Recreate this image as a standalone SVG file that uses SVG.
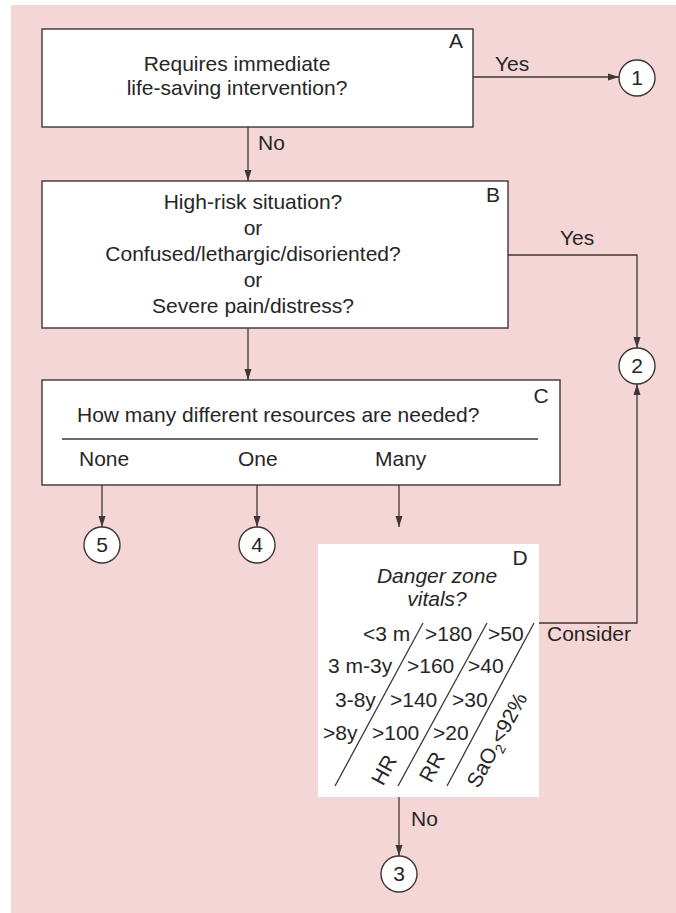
<svg xmlns="http://www.w3.org/2000/svg" width="676" height="913" viewBox="0 0 676 913">
<defs>
<style>
.bg{fill:#f5d6d6}
.box{fill:#ffffff;stroke:#3f3636;stroke-width:1.4}
.dbox{fill:#ffffff}
.ln{fill:none;stroke:#3f3636;stroke-width:1.3}
.cir{fill:#ffffff;stroke:#3f3636;stroke-width:1.4}
text{font-family:"Liberation Sans",Arial,sans-serif;font-size:21px;fill:#262626}
.c{text-anchor:middle}
.it{font-style:italic}
</style>
<marker id="ah" markerUnits="userSpaceOnUse" markerWidth="11" markerHeight="8" refX="11" refY="4" orient="auto">
<path d="M0,0.5 L11,4 L0,7.5 z" fill="#3f3636"/>
</marker>
</defs>
<rect x="0" y="0" width="676" height="913" fill="#ffffff"/>
<rect class="bg" x="11" y="5" width="665" height="908"/>

<g id="connectors">
<line class="ln" x1="473" y1="77" x2="619" y2="77" marker-end="url(#ah)"/>
<line class="ln" x1="248" y1="127" x2="248" y2="181" marker-end="url(#ah)"/>
<path class="ln" d="M508,255 H637 V348" marker-end="url(#ah)"/>
<line class="ln" x1="248" y1="328" x2="248" y2="380" marker-end="url(#ah)"/>
<line class="ln" x1="102" y1="485" x2="102" y2="527" marker-end="url(#ah)"/>
<line class="ln" x1="257" y1="485" x2="257" y2="527" marker-end="url(#ah)"/>
<line class="ln" x1="399" y1="485" x2="399" y2="527" marker-end="url(#ah)"/>
<path class="ln" d="M538,623 H637 V384" marker-end="url(#ah)"/>
<line class="ln" x1="399" y1="797" x2="399" y2="856" marker-end="url(#ah)"/>
<text x="495" y="71">Yes</text>
<text x="258" y="150">No</text>
<text x="560" y="245">Yes</text>
<text x="547" y="641">Consider</text>
<text x="411" y="826">No</text>
</g>

<g id="nodeA">
<rect class="box" x="42" y="29" width="431" height="98"/>
<text x="456" y="48" class="c">A</text>
<text x="237" y="71" class="c">Requires immediate</text>
<text x="237" y="95" class="c">life-saving intervention?</text>
</g>

<g id="nodeB">
<rect class="box" x="42" y="181" width="466" height="147"/>
<text x="493" y="202" class="c">B</text>
<text x="253" y="209" class="c">High-risk situation?</text>
<text x="253" y="235" class="c">or</text>
<text x="253" y="261" class="c">Confused/lethargic/disoriented?</text>
<text x="253" y="287" class="c">or</text>
<text x="253" y="313" class="c">Severe pain/distress?</text>
</g>

<g id="nodeC">
<rect class="box" x="42" y="380" width="518" height="105"/>
<text x="541" y="403" class="c">C</text>
<text x="77" y="422">How many different resources are needed?</text>
<line class="ln" x1="62" y1="439" x2="538" y2="439"/>
<text x="79" y="466">None</text>
<text x="238" y="466">One</text>
<text x="375" y="466">Many</text>
</g>

<g id="circle1"><circle class="cir" cx="637" cy="78" r="18"/><text x="637" y="85" class="c">1</text></g>
<g id="circle2"><circle class="cir" cx="637" cy="366" r="18"/><text x="637" y="373" class="c">2</text></g>
<g id="circle5"><circle class="cir" cx="102" cy="545" r="18"/><text x="102" y="552" class="c">5</text></g>
<g id="circle4"><circle class="cir" cx="257" cy="545" r="18"/><text x="257" y="552" class="c">4</text></g>
<g id="circle3"><circle class="cir" cx="399" cy="874" r="18"/><text x="399" y="881" class="c">3</text></g>

<g id="nodeD">
<rect class="dbox" x="318" y="544" width="221" height="253"/>
<text x="520" y="565" class="c">D</text>
<text x="437" y="583" class="c it">Danger zone</text>
<text x="437" y="606" class="c it">vitals?</text>
<line class="ln" x1="423" y1="623" x2="335" y2="786"/>
<line class="ln" x1="487" y1="623" x2="398" y2="786"/>
<line class="ln" x1="534" y1="623" x2="447" y2="786"/>
<text x="363" y="641">&lt;3 m</text>
<text x="425" y="641">&gt;180</text>
<text x="488" y="641">&gt;50</text>
<text x="328" y="673">3 m-3y</text>
<text x="407" y="673">&gt;160</text>
<text x="468" y="673">&gt;40</text>
<text x="335" y="707">3-8y</text>
<text x="390" y="707">&gt;140</text>
<text x="452" y="707">&gt;30</text>
<text x="323" y="740">&gt;8y</text>
<text x="372" y="740">&gt;100</text>
<text x="433" y="740">&gt;20</text>
<text x="384" y="777" class="c" transform="rotate(-61.6 384 770)">HR</text>
<text x="432" y="774" class="c" transform="rotate(-61.6 432 767)">RR</text>
<text x="497" y="747" class="c" transform="rotate(-61.6 497 740)">SaO<tspan font-size="14" dy="5">2</tspan><tspan dy="-5">&lt;92%</tspan></text>
</g>
</svg>
